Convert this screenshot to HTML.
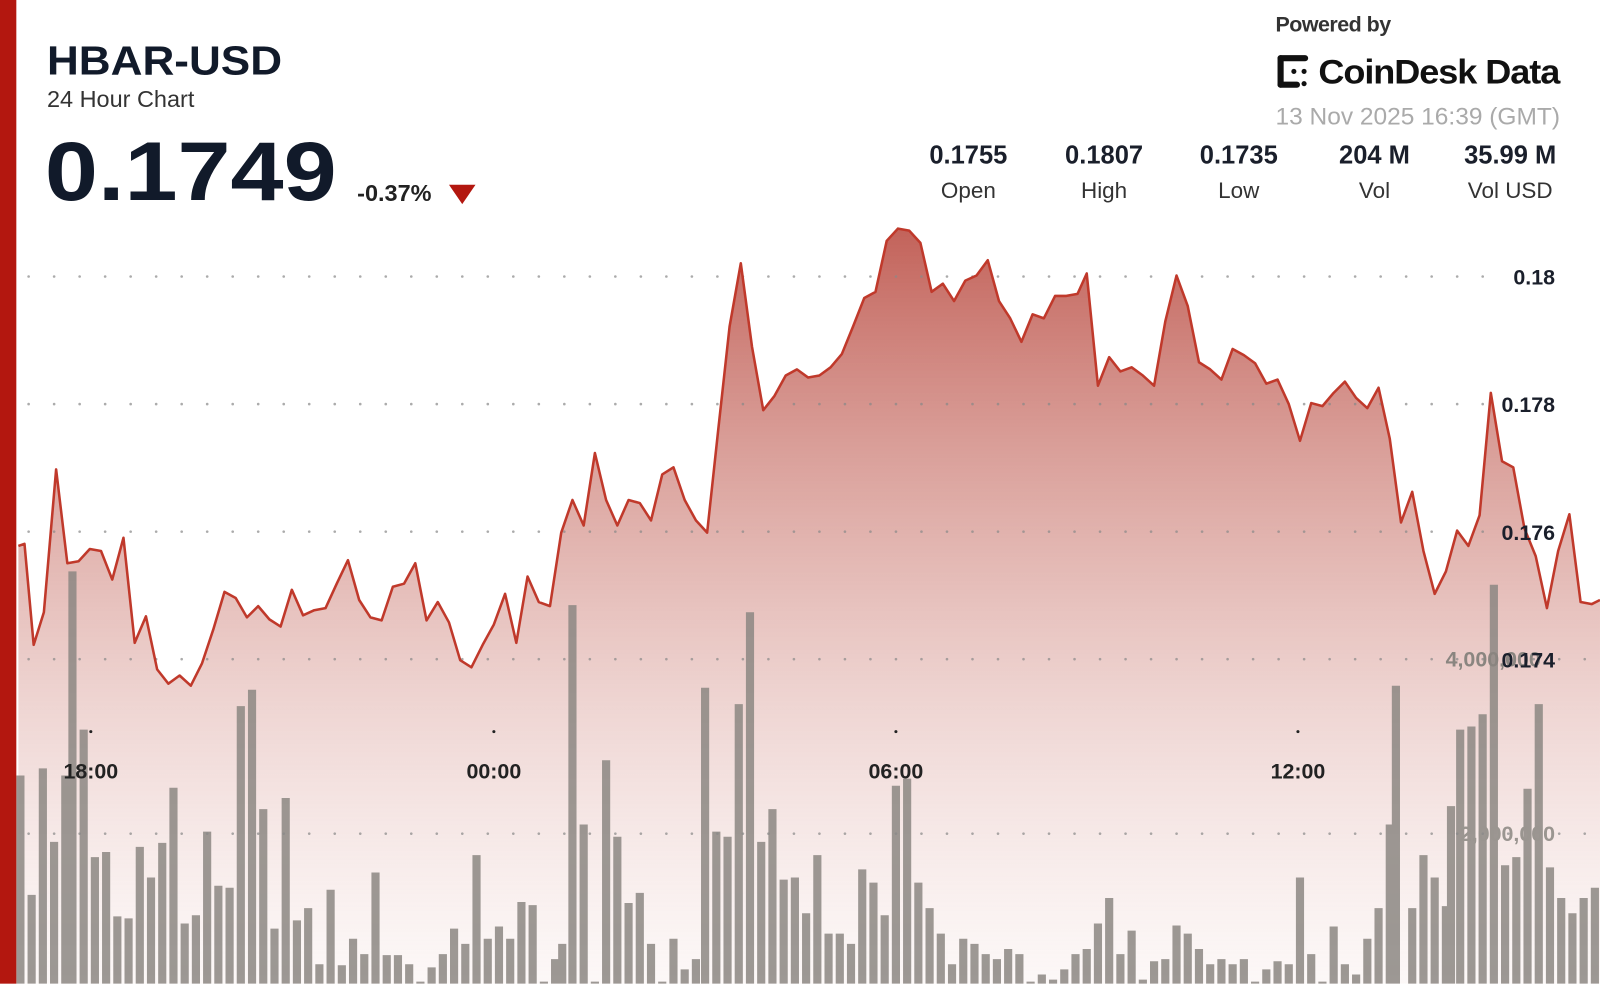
<!DOCTYPE html>
<html><head><meta charset="utf-8"><style>
body{margin:0;width:1600px;height:983px;overflow:hidden;background:#fff;font-family:"Liberation Sans",sans-serif;position:relative}
#w{position:absolute;left:0;top:0;width:1568px;height:964px;transform:scale(1.0204);transform-origin:0 0}
.a{position:absolute;white-space:nowrap}
.c{position:absolute;width:140px;text-align:center}
</style></head><body><div id="w">
<svg class="a" style="left:0;top:0" width="1568" height="964">
<defs>
<linearGradient id="g" x1="0" y1="224" x2="0" y2="964" gradientUnits="userSpaceOnUse">
<stop offset="0" stop-color="#b8473d" stop-opacity="0.85"/>
<stop offset="0.45" stop-color="#c9756c" stop-opacity="0.5"/>
<stop offset="1" stop-color="#e8c4c0" stop-opacity="0.12"/>
</linearGradient>
</defs>
<path fill="url(#g)" d="M18,535 L24,533 33,632 43,600 55,460 66,552 77,550 88,538 99,540 110,568 121,527 132,630 143,604 154,656 165,670 176,662 187,672 198,650 209,617 220,580 231,586 242,605 253,594 264,607 275,614 286,578 297,603 308,598 319,596 330,572 341,549 352,588 363,605 374,608 385,575 396,572 407,552 418,608 429,590 440,610 451,647 462,654 473,632 484,612 495,582 506,630 517,565 528,590 539,594 550,522 561,490 572,515 583,444 594,490 605,515 616,490 627,493 638,510 649,465 660,458 671,490 682,510 693,522 704,420 715,320 726,258 737,340 748,402 759,388 770,368 781,362 792,370 803,368 814,360 825,347 836,320 847,292 858,286 869,236 880,224 891,226 902,238 913,286 924,278 935,295 946,275 957,270 968,255 979,295 990,312 1001,335 1012,308 1023,312 1034,290 1045,290 1056,288 1065,268 1076,378 1087,350 1098,364 1109,360 1120,368 1131,378 1142,315 1153,270 1164,300 1175,355 1186,362 1197,372 1208,342 1219,348 1230,356 1241,376 1252,372 1263,396 1274,432 1285,395 1296,398 1307,385 1318,374 1329,390 1340,400 1351,380 1362,430 1373,512 1384,482 1395,540 1406,582 1417,560 1428,520 1439,535 1450,505 1461,385 1472,452 1483,458 1494,518 1505,545 1516,596 1527,540 1538,504 1549,590 1560,592 1568,588 L1568,964 L18,964 Z"/>
<g fill="#8c8782" fill-opacity="0.85">
<path d="M16 760h8V983h-8zM27 877h8V983h-8zM38 753h8V983h-8zM49 825h8V983h-8zM60 760h8V983h-8zM67 560h8V983h-8zM78 715h8V983h-8zM89 840h8V983h-8zM100 835h8V983h-8zM111 898h8V983h-8zM122 900h8V983h-8zM133 830h8V983h-8zM144 860h8V983h-8zM155 826h8V983h-8zM166 772h8V983h-8zM177 905h8V983h-8zM188 897h8V983h-8zM199 815h8V983h-8zM210 868h8V983h-8zM221 870h8V983h-8zM232 692h8V983h-8zM243 676h8V983h-8zM254 793h8V983h-8zM265 910h8V983h-8zM276 782h8V983h-8zM287 902h8V983h-8zM298 890h8V983h-8zM309 945h8V983h-8zM320 872h8V983h-8zM331 946h8V983h-8zM342 920h8V983h-8zM353 935h8V983h-8zM364 855h8V983h-8zM375 936h8V983h-8zM386 936h8V983h-8zM397 945h8V983h-8zM408 962h8V983h-8zM419 948h8V983h-8zM430 935h8V983h-8zM441 910h8V983h-8zM452 925h8V983h-8zM463 838h8V983h-8zM474 920h8V983h-8zM485 908h8V983h-8zM496 920h8V983h-8zM507 884h8V983h-8zM518 887h8V983h-8zM529 962h8V983h-8zM540 940h8V983h-8zM547 925h8V983h-8zM557 593h8V983h-8zM568 808h8V983h-8zM579 962h8V983h-8zM590 745h8V983h-8zM601 820h8V983h-8zM612 885h8V983h-8zM623 875h8V983h-8zM634 925h8V983h-8zM645 962h8V983h-8zM656 920h8V983h-8zM667 950h8V983h-8zM678 940h8V983h-8zM687 674h8V983h-8zM698 815h8V983h-8zM709 820h8V983h-8zM720 690h8V983h-8zM731 600h8V983h-8zM742 825h8V983h-8zM753 793h8V983h-8zM764 862h8V983h-8zM775 860h8V983h-8zM786 895h8V983h-8zM797 838h8V983h-8zM808 915h8V983h-8zM819 915h8V983h-8zM830 925h8V983h-8zM841 852h8V983h-8zM852 865h8V983h-8zM863 897h8V983h-8zM874 770h8V983h-8zM885 763h8V983h-8zM896 865h8V983h-8zM907 890h8V983h-8zM918 915h8V983h-8zM929 945h8V983h-8zM940 920h8V983h-8zM951 925h8V983h-8zM962 935h8V983h-8zM973 940h8V983h-8zM984 930h8V983h-8zM995 935h8V983h-8zM1006 962h8V983h-8zM1017 955h8V983h-8zM1028 960h8V983h-8zM1039 950h8V983h-8zM1050 935h8V983h-8zM1061 930h8V983h-8zM1072 905h8V983h-8zM1083 880h8V983h-8zM1094 935h8V983h-8zM1105 912h8V983h-8zM1116 960h8V983h-8zM1127 942h8V983h-8zM1138 940h8V983h-8zM1149 907h8V983h-8zM1160 915h8V983h-8zM1171 930h8V983h-8zM1182 945h8V983h-8zM1193 940h8V983h-8zM1204 945h8V983h-8zM1215 940h8V983h-8zM1226 962h8V983h-8zM1237 950h8V983h-8zM1248 942h8V983h-8zM1259 945h8V983h-8zM1270 860h8V983h-8zM1281 935h8V983h-8zM1292 962h8V983h-8zM1303 908h8V983h-8zM1314 945h8V983h-8zM1325 955h8V983h-8zM1336 920h8V983h-8zM1347 890h8V983h-8zM1358 808h8V983h-8zM1364 672h8V983h-8zM1380 890h8V983h-8zM1391 838h8V983h-8zM1402 860h8V983h-8zM1413 888h8V983h-8zM1418 790h8V983h-8zM1427 715h8V983h-8zM1438 712h8V983h-8zM1449 700h8V983h-8zM1460 573h8V983h-8zM1471 848h8V983h-8zM1482 840h8V983h-8zM1493 773h8V983h-8zM1504 690h8V983h-8zM1515 850h8V983h-8zM1526 880h8V983h-8zM1537 895h8V983h-8zM1548 880h8V983h-8zM1559 870h8V983h-8z"/>
</g>
<g stroke="#888" stroke-width="2.5" stroke-dasharray="0.1 24.9" stroke-linecap="round" opacity="0.7">
<line x1="28" y1="271" x2="1460" y2="271"/>
<line x1="28" y1="396" x2="1460" y2="396"/>
<line x1="28" y1="521" x2="1460" y2="521"/>
<line x1="28" y1="646" x2="1560" y2="646"/>
<line x1="28" y1="817" x2="1560" y2="817"/>
</g>
<polyline fill="none" stroke="#c0392b" stroke-width="2.5" stroke-linejoin="round" points="18,535 24,533 33,632 43,600 55,460 66,552 77,550 88,538 99,540 110,568 121,527 132,630 143,604 154,656 165,670 176,662 187,672 198,650 209,617 220,580 231,586 242,605 253,594 264,607 275,614 286,578 297,603 308,598 319,596 330,572 341,549 352,588 363,605 374,608 385,575 396,572 407,552 418,608 429,590 440,610 451,647 462,654 473,632 484,612 495,582 506,630 517,565 528,590 539,594 550,522 561,490 572,515 583,444 594,490 605,515 616,490 627,493 638,510 649,465 660,458 671,490 682,510 693,522 704,420 715,320 726,258 737,340 748,402 759,388 770,368 781,362 792,370 803,368 814,360 825,347 836,320 847,292 858,286 869,236 880,224 891,226 902,238 913,286 924,278 935,295 946,275 957,270 968,255 979,295 990,312 1001,335 1012,308 1023,312 1034,290 1045,290 1056,288 1065,268 1076,378 1087,350 1098,364 1109,360 1120,368 1131,378 1142,315 1153,270 1164,300 1175,355 1186,362 1197,372 1208,342 1219,348 1230,356 1241,376 1252,372 1263,396 1274,432 1285,395 1296,398 1307,385 1318,374 1329,390 1340,400 1351,380 1362,430 1373,512 1384,482 1395,540 1406,582 1417,560 1428,520 1439,535 1450,505 1461,385 1472,452 1483,458 1494,518 1505,545 1516,596 1527,540 1538,504 1549,590 1560,592 1568,588"/>
<g fill="#222"><circle cx="89" cy="717" r="1.5"/><circle cx="484" cy="717" r="1.5"/><circle cx="878" cy="717" r="1.5"/><circle cx="1272" cy="717" r="1.5"/></g>
<g font-family="Liberation Sans,sans-serif" font-weight="bold" font-size="21" fill="#222" text-anchor="middle">
<text x="89" y="763">18:00</text><text x="484" y="763">00:00</text><text x="878" y="763">06:00</text><text x="1272" y="763">12:00</text>
</g>
<g font-family="Liberation Sans,sans-serif" font-size="21" text-anchor="end">
<text x="1510" y="653" fill="#8a8580" font-weight="bold">4,000,000</text>
<text x="1524" y="824" fill="#9a9590" font-weight="bold">2,000,000</text>
<g fill="#1a1f2b" font-weight="bold"><text x="1524" y="279">0.18</text><text x="1524" y="404">0.178</text><text x="1524" y="529">0.176</text><text x="1524" y="654">0.174</text></g>
</g>
</svg>
<div class="a" style="left:0;top:0;width:16px;height:964px;background:#b3170f"></div>
<div class="a" style="left:46px;top:38px;font-size:40px;font-weight:bold;color:#111a2a;transform:scaleX(1.08);transform-origin:0 0">HBAR-USD</div>
<div class="a" style="left:46px;top:84px;font-size:23px;color:#333">24 Hour Chart</div>
<div class="a" style="left:44px;top:122px;font-size:82px;font-weight:bold;color:#111a2a;transform:scaleX(1.14);transform-origin:0 0">0.1749</div>
<div class="a" style="left:350px;top:176px;font-size:23px;font-weight:bold;color:#222">-0.37%</div>
<div class="a" style="left:440px;top:181px;width:0;height:0;border-left:13px solid transparent;border-right:13px solid transparent;border-top:19px solid #b3170f"></div>
<div class="a" style="left:1250px;top:13px;font-size:21px;font-weight:bold;color:#333;letter-spacing:-0.5px">Powered by</div>
<svg class="a" style="left:1250px;top:52px" width="40" height="36"><g fill="#111"><rect x="2" y="2" width="6" height="32" rx="3"/><rect x="2" y="2" width="30" height="6" rx="3"/><rect x="2" y="28" width="22" height="6" rx="3"/><circle cx="18" cy="18" r="2.5"/><circle cx="28" cy="18" r="2.5"/><circle cx="28" cy="30" r="2.5"/></g></svg>
<div class="a" style="left:1292px;top:52px;font-size:34px;font-weight:bold;color:#111;letter-spacing:-1px;transform:scaleX(1.04);transform-origin:0 0">CoinDesk Data</div>
<div class="a" style="left:1250px;top:101px;font-size:24px;color:#aaa">13 Nov 2025 16:39 (GMT)</div>
<div class="a" style="left:0;top:138px;width:1568px;font-size:25px;color:#1a1f2b">
<div class="c" style="left:879px;top:0;font-weight:bold">0.1755</div>
<div class="c" style="left:1012px;top:0;font-weight:bold">0.1807</div>
<div class="c" style="left:1144px;top:0;font-weight:bold">0.1735</div>
<div class="c" style="left:1277px;top:0;font-weight:bold">204 M</div>
<div class="c" style="left:1410px;top:0;font-weight:bold">35.99 M</div>
<div class="c" style="left:879px;top:36px;font-size:22px;color:#333">Open</div>
<div class="c" style="left:1012px;top:36px;font-size:22px;color:#333">High</div>
<div class="c" style="left:1144px;top:36px;font-size:22px;color:#333">Low</div>
<div class="c" style="left:1277px;top:36px;font-size:22px;color:#333">Vol</div>
<div class="c" style="left:1410px;top:36px;font-size:22px;color:#333">Vol USD</div>
</div>
</div></body></html>
